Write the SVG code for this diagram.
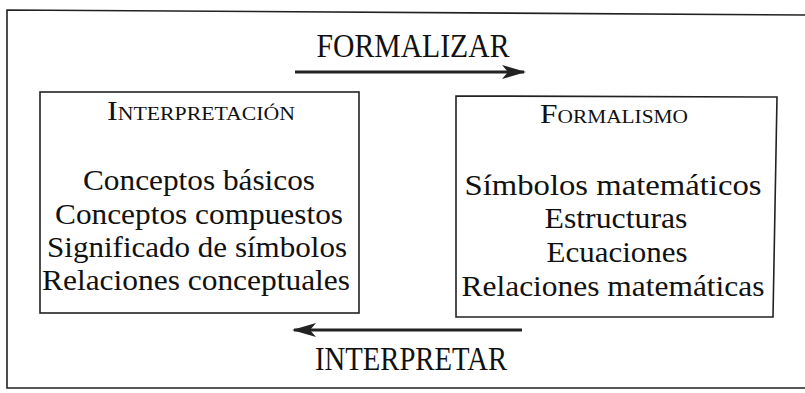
<svg xmlns="http://www.w3.org/2000/svg" width="805" height="393" viewBox="0 0 805 393">
<style>
.frame{fill:none;stroke:#222;stroke-width:1.6}
.box{fill:none;stroke:#222;stroke-width:1.6}
.lbl{font-family:"Liberation Serif","Times New Roman",serif;fill:#111;text-anchor:middle}
.big{font-size:33px}
.body{font-size:30px}
.title{font-size:28px}
.sc{font-size:19px}
.conn{stroke:#222;stroke-width:3;fill:none}
</style>
<defs>
<marker id="ah" viewBox="0 0 24 14" refX="22" refY="7" markerWidth="24" markerHeight="14" markerUnits="userSpaceOnUse" orient="auto">
<path d="M0,0 L24,7 L0,14 L6,7 Z" fill="#222"/>
</marker>
</defs>
<path class="frame" d="M805,15 L7,10 L7,388 L805,388"/>
<g id="connectors">
<line class="conn" x1="295" y1="72" x2="524" y2="72" marker-end="url(#ah)"/>
<line class="conn" x1="522" y1="330" x2="294" y2="330" marker-end="url(#ah)"/>
<text class="lbl big" x="413" y="57" textLength="193" lengthAdjust="spacingAndGlyphs">FORMALIZAR</text>
<text class="lbl big" x="411" y="370" textLength="192" lengthAdjust="spacingAndGlyphs">INTERPRETAR</text>
</g>
<g id="interpretacion">
<rect class="box" x="40" y="92" width="319" height="221"/>
<text class="lbl title" x="201" y="120" textLength="188" lengthAdjust="spacingAndGlyphs">I<tspan class="sc">NTERPRETACIÓN</tspan></text>
<text class="lbl body" x="199" y="190" textLength="232" lengthAdjust="spacingAndGlyphs">Conceptos básicos</text>
<text class="lbl body" x="199" y="224" textLength="288" lengthAdjust="spacingAndGlyphs">Conceptos compuestos</text>
<text class="lbl body" x="197" y="257" textLength="300" lengthAdjust="spacingAndGlyphs">Significado de símbolos</text>
<text class="lbl body" x="196" y="290" textLength="308" lengthAdjust="spacingAndGlyphs">Relaciones conceptuales</text>
</g>
<g id="formalismo">
<path class="box" d="M456,96 L777,97 L773,317 L456,317 Z"/>
<text class="lbl title" x="614" y="123" textLength="148" lengthAdjust="spacingAndGlyphs">F<tspan class="sc">ORMALISMO</tspan></text>
<text class="lbl body" x="613" y="195" textLength="297" lengthAdjust="spacingAndGlyphs">Símbolos matemáticos</text>
<text class="lbl body" x="616" y="228" textLength="143" lengthAdjust="spacingAndGlyphs">Estructuras</text>
<text class="lbl body" x="617" y="262" textLength="141" lengthAdjust="spacingAndGlyphs">Ecuaciones</text>
<text class="lbl body" x="613" y="296" textLength="303" lengthAdjust="spacingAndGlyphs">Relaciones matemáticas</text>
</g>
</svg>
